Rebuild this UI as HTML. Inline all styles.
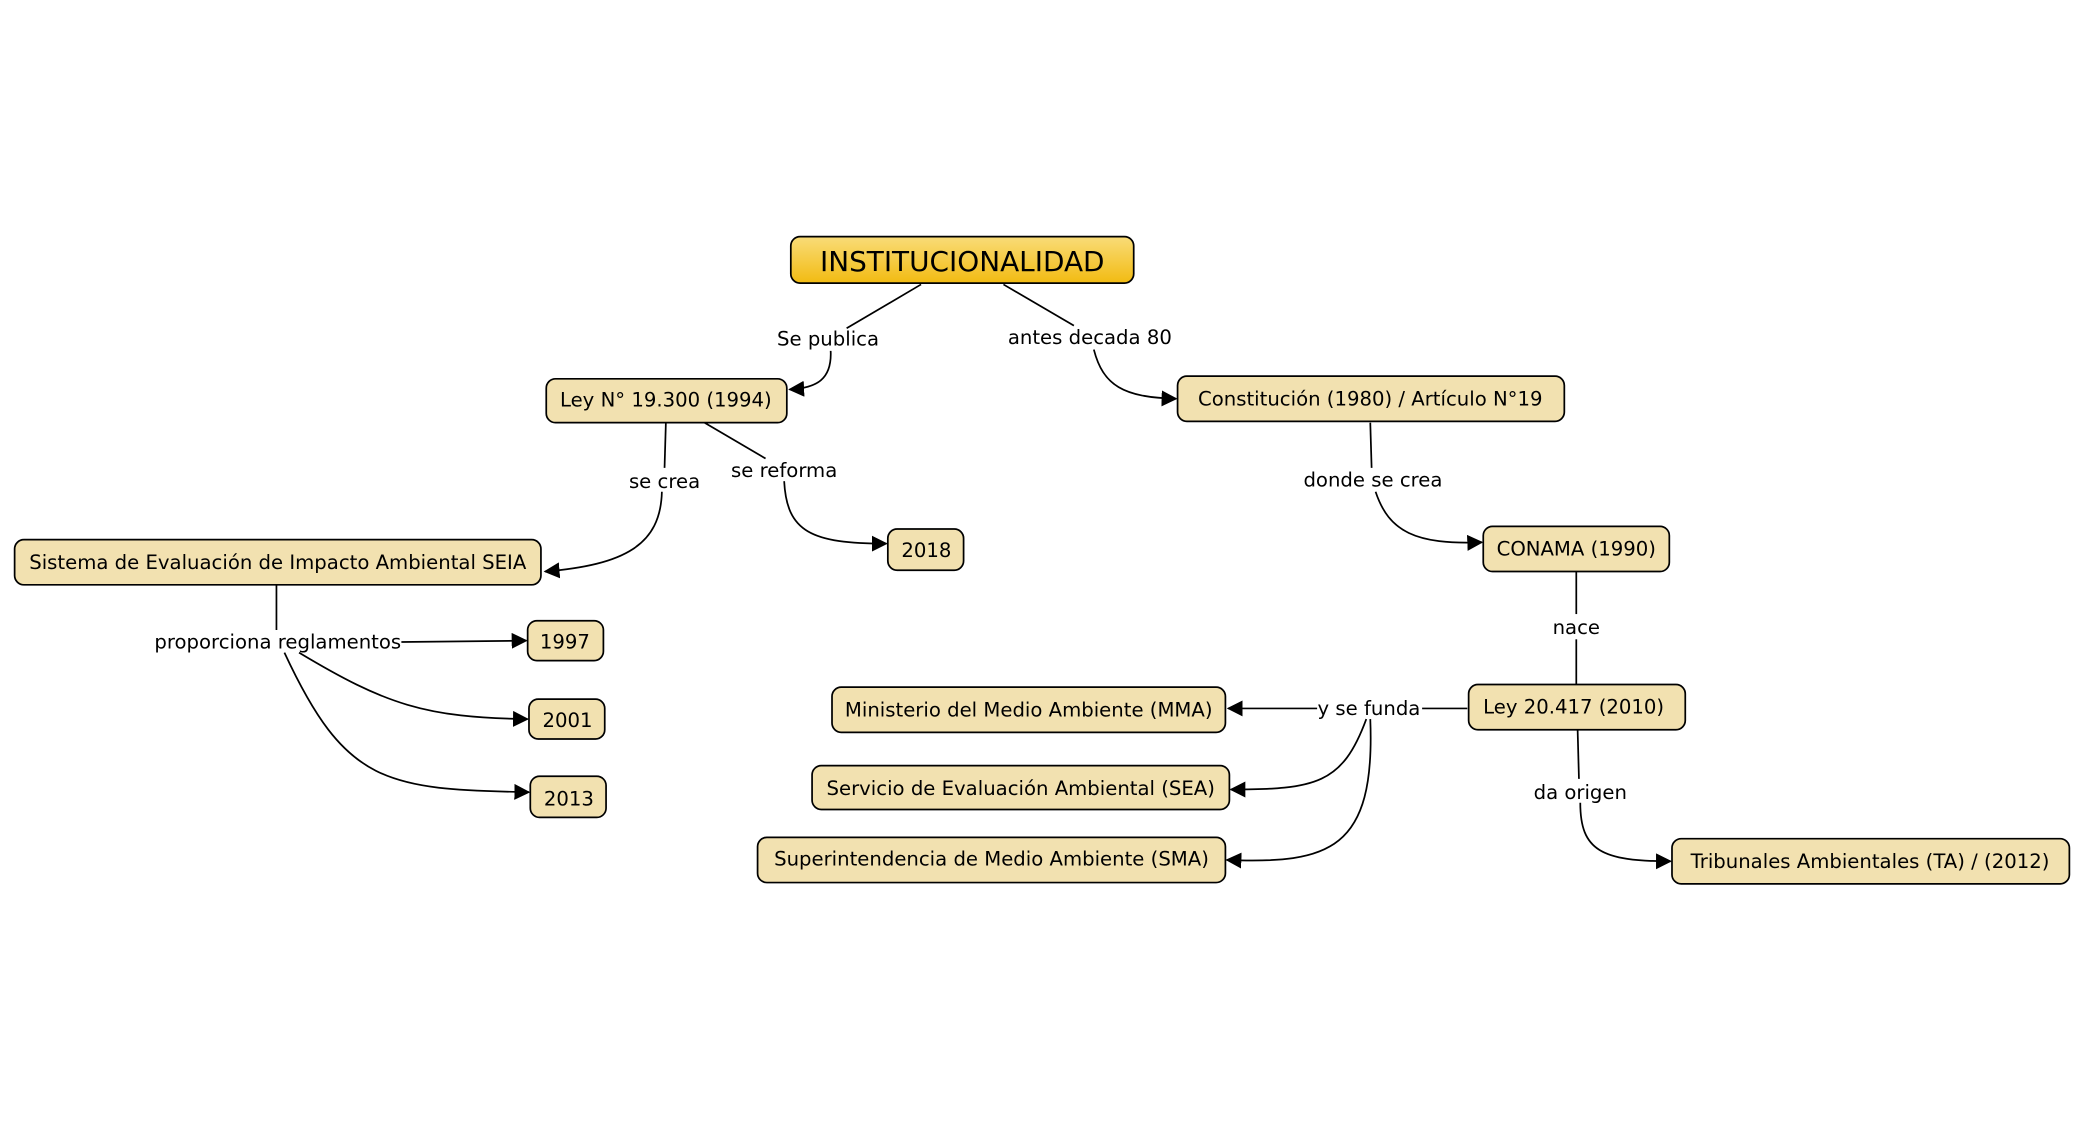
<!DOCTYPE html>
<html><head><meta charset="utf-8"><style>
html,body{margin:0;padding:0;background:#fff;}
svg{display:block;}
text{font-family:"DejaVu Sans","Liberation Sans",sans-serif;font-size:14.8px;fill:#000;}
.n{fill:#f2e1b0;stroke:#000;stroke-width:1.3;}
.e{fill:none;stroke:#000;stroke-width:1.3;}
.l{text-anchor:middle;}
</style></head><body>
<svg width="2084" height="1121" viewBox="0 0 1568 843.4" preserveAspectRatio="none" xmlns="http://www.w3.org/2000/svg">
<defs>
<linearGradient id="g" x1="0" y1="0" x2="0" y2="1"><stop offset="0" stop-color="#f9dc78"/><stop offset="1" stop-color="#f2bb12"/></linearGradient>
<marker id="a" markerWidth="12" markerHeight="12" refX="11" refY="6" orient="auto" markerUnits="userSpaceOnUse"><path d="M0,0 L12,6 L0,12 z" fill="#000"/></marker>
</defs>
<!-- edges -->
<path class="e" d="M693,214 L637,247"/>
<path class="e" d="M625,264 C626,285 615,292 594,293" marker-end="url(#a)"/>
<path class="e" d="M755,214 L808,245"/>
<path class="e" d="M823,263 C830,290 845,299 885,300" marker-end="url(#a)"/>
<path class="e" d="M501,318 L500,352"/>
<path class="e" d="M498,370 C497,410 470,425 410,430" marker-end="url(#a)"/>
<path class="e" d="M530,318 L576,345"/>
<path class="e" d="M590,362 C592,400 610,409 667,409" marker-end="url(#a)"/>
<path class="e" d="M1031,318 L1032,352"/>
<path class="e" d="M1035,370 C1045,400 1065,410 1115,408" marker-end="url(#a)"/>
<path class="e" d="M1186,430 L1186,462"/>
<path class="e" d="M1186,481 L1186,515"/>
<path class="e" d="M208,440 L208,474"/>
<path class="e" d="M302,483 L396,482" marker-end="url(#a)"/>
<path class="e" d="M225,491 C290,530 320,540 397,541" marker-end="url(#a)"/>
<path class="e" d="M214,491 C260,590 290,594 398,596" marker-end="url(#a)"/>
<path class="e" d="M1104,533 L1070,533"/>
<path class="e" d="M991,533 L924,533" marker-end="url(#a)"/>
<path class="e" d="M1028,541 C1010,590 990,594 926,594" marker-end="url(#a)"/>
<path class="e" d="M1031,541 C1035,640 1000,650 923,647" marker-end="url(#a)"/>
<path class="e" d="M1187,549 L1188,586"/>
<path class="e" d="M1189,604 C1189,640 1205,648 1257,648" marker-end="url(#a)"/>
<!-- edge labels -->
<text class="l" x="623" y="260">Se publica</text>
<text class="l" x="820" y="259">antes decada 80</text>
<text class="l" x="500" y="367">se crea</text>
<text class="l" x="590" y="359">se reforma</text>
<text class="l" x="1033" y="366">donde se crea</text>
<text class="l" x="1186" y="477">nace</text>
<text class="l" x="209" y="488">proporciona reglamentos</text>
<text class="l" x="1030" y="538">y se funda</text>
<text class="l" x="1189" y="601">da origen</text>
<!-- nodes -->
<rect x="595" y="178" width="258" height="35" rx="7" fill="url(#g)" stroke="#000" stroke-width="1.3"/>
<text class="l" x="724" y="204" style="font-size:21px">INSTITUCIONALIDAD</text>
<rect class="n" x="411" y="285" width="181" height="33" rx="7"/><text class="l" x="501" y="306">Ley N° 19.300 (1994)</text>
<rect class="n" x="886" y="283" width="291" height="34" rx="7"/><text class="l" x="1031" y="305">Constitución  (1980) / Artículo N°19</text>
<rect class="n" x="11" y="406" width="396" height="34" rx="7"/><text class="l" x="209" y="428">Sistema de Evaluación de Impacto Ambiental SEIA</text>
<rect class="n" x="668" y="398" width="57" height="31" rx="7"/><text class="l" x="697" y="419">2018</text>
<rect class="n" x="1116" y="396" width="140" height="34" rx="7"/><text class="l" x="1186" y="418">CONAMA (1990)</text>
<rect class="n" x="397" y="467" width="57" height="30" rx="7"/><text class="l" x="425" y="488">1997</text>
<rect class="n" x="398" y="526" width="57" height="30" rx="7"/><text class="l" x="427" y="547">2001</text>
<rect class="n" x="399" y="584" width="57" height="31" rx="7"/><text class="l" x="428" y="606">2013</text>
<rect class="n" x="1105" y="515" width="163" height="34" rx="7"/><text class="l" x="1184" y="537">Ley 20.417 (2010)</text>
<rect class="n" x="626" y="517" width="296" height="34" rx="7"/><text class="l" x="774" y="539">Ministerio del Medio Ambiente (MMA)</text>
<rect class="n" x="611" y="576" width="314" height="33" rx="7"/><text class="l" x="768" y="598">Servicio de Evaluación Ambiental (SEA)</text>
<rect class="n" x="570" y="630" width="352" height="34" rx="7"/><text class="l" x="746" y="651">Superintendencia de Medio Ambiente  (SMA)</text>
<rect class="n" x="1258" y="631" width="299" height="34" rx="7"/><text class="l" x="1407" y="653">Tribunales Ambientales (TA) / (2012)</text>
</svg>
</body></html>
